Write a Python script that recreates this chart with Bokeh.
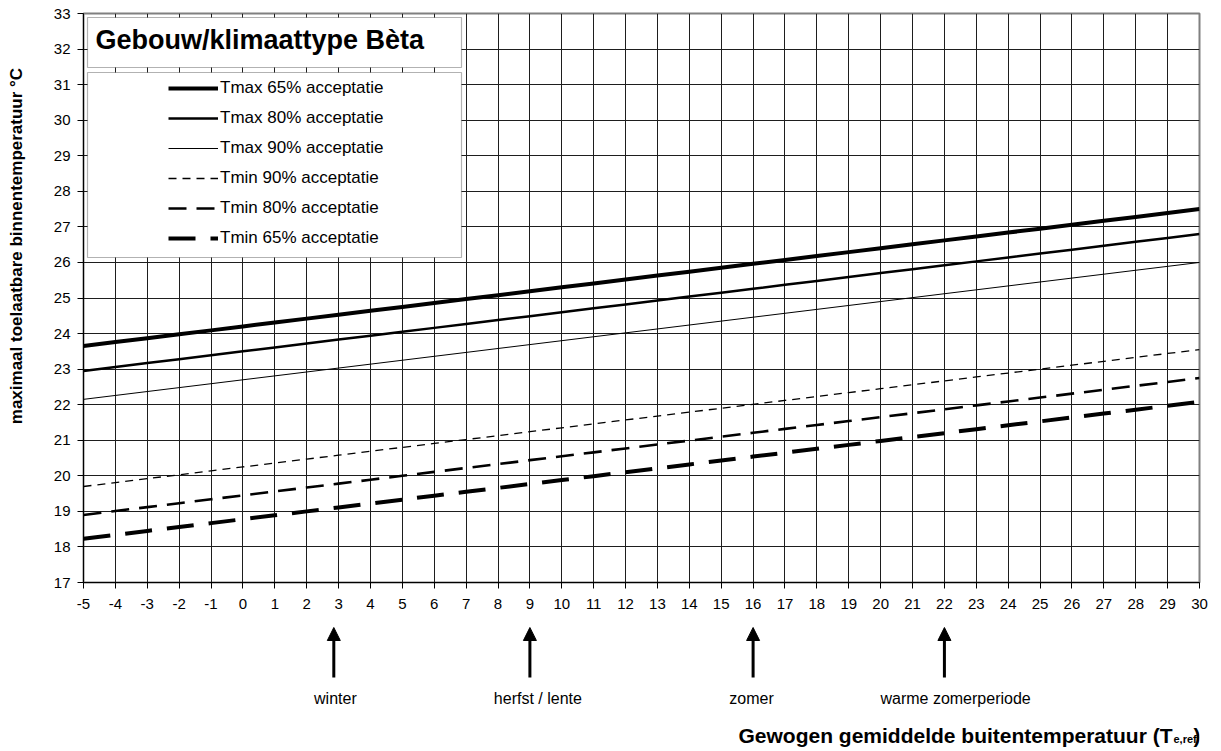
from bokeh.plotting import figure
from bokeh.models import (Range1d, FixedTicker, Legend, LegendItem, BoxAnnotation,
                          Label, Arrow, NormalHead, ColumnDataSource)
from bokeh.layouts import column
from bokeh.embed import file_html
from bokeh.resources import INLINE

# ---------------- data ----------------
te = list(range(-5, 31))
tmax65 = [23.65, 23.76, 23.87, 23.98, 24.09, 24.2, 24.31, 24.42, 24.53, 24.64, 24.75, 24.86,
          24.97, 25.08, 25.19, 25.3, 25.41, 25.52, 25.63, 25.74, 25.85, 25.96, 26.07, 26.18,
          26.29, 26.4, 26.51, 26.62, 26.73, 26.84, 26.95, 27.06, 27.17, 27.28, 27.39, 27.5]
tmax80 = [22.95, 23.06, 23.17, 23.28, 23.39, 23.5, 23.61, 23.72, 23.83, 23.94, 24.05, 24.16,
          24.27, 24.38, 24.49, 24.6, 24.71, 24.82, 24.93, 25.04, 25.15, 25.26, 25.37, 25.48,
          25.59, 25.7, 25.81, 25.92, 26.03, 26.14, 26.25, 26.36, 26.47, 26.58, 26.69, 26.8]
tmax90 = [22.15, 22.26, 22.37, 22.48, 22.59, 22.7, 22.81, 22.92, 23.03, 23.14, 23.25, 23.36,
          23.47, 23.58, 23.69, 23.8, 23.91, 24.02, 24.13, 24.24, 24.35, 24.46, 24.57, 24.68,
          24.79, 24.9, 25.01, 25.12, 25.23, 25.34, 25.45, 25.56, 25.67, 25.78, 25.89, 26.0]
tmin90 = [19.7, 19.81, 19.92, 20.03, 20.14, 20.25, 20.36, 20.47, 20.58, 20.69, 20.8, 20.91,
          21.02, 21.13, 21.24, 21.35, 21.46, 21.57, 21.68, 21.79, 21.9, 22.01, 22.12, 22.23,
          22.34, 22.45, 22.56, 22.67, 22.78, 22.89, 23.0, 23.11, 23.22, 23.33, 23.44, 23.55]
tmin80 = [18.9, 19.01, 19.12, 19.23, 19.34, 19.45, 19.56, 19.67, 19.78, 19.89, 20.0, 20.11,
          20.22, 20.33, 20.44, 20.55, 20.66, 20.77, 20.88, 20.99, 21.1, 21.21, 21.32, 21.43,
          21.54, 21.65, 21.76, 21.87, 21.98, 22.09, 22.2, 22.31, 22.42, 22.53, 22.64, 22.75]
tmin65 = [18.23, 18.34, 18.45, 18.56, 18.67, 18.78, 18.89, 19.0, 19.11, 19.22, 19.33, 19.44,
          19.55, 19.66, 19.77, 19.88, 19.99, 20.1, 20.21, 20.32, 20.43, 20.54, 20.65, 20.76,
          20.87, 20.98, 21.09, 21.2, 21.31, 21.42, 21.53, 21.64, 21.75, 21.86, 21.97, 22.08]

series_names = ["Tmax 65% acceptatie", "Tmax 80% acceptatie", "Tmax 90% acceptatie",
                "Tmin 90% acceptatie", "Tmin 80% acceptatie", "Tmin 65% acceptatie"]
x_ticks = list(range(-5, 31))
y_ticks = list(range(17, 34))

season_labels = ["winter", "herfst / lente", "zomer", "warme zomerperiode"]
season_arrow_x = [2.85, 9, 16, 22]
season_label_x = [2.9, 9.25, 15.95, 22.35]

chart_title = "Gebouw/klimaattype Bèta"
y_title = "maximaal toelaatbare binnentemperatuur °C"
x_title_main = "Gewogen gemiddelde buitentemperatuur (T"
x_title_sub = "e,ref"
x_title_end = ")"

# ---------------- styling ----------------
FONT = "Liberation Sans"
W = 1221
LEFT, RIGHT, TOP = 83, 22, 13
MAIN_H = 625
BOTTOM = MAIN_H - 582

styles = [
    dict(line_width=4.0, line_dash="solid"),
    dict(line_width=2.5, line_dash="solid"),
    dict(line_width=1.0, line_dash="solid"),
    dict(line_width=1.3, line_dash="8 6"),
    dict(line_width=2.6, line_dash="18 10"),
    dict(line_width=4.0, line_dash="27 15"),
]

p = figure(width=W, height=MAIN_H, x_range=Range1d(-5, 30), y_range=Range1d(17, 33),
           output_backend="svg", toolbar_location=None,
           min_border_left=LEFT, min_border_right=RIGHT, min_border_top=TOP,
           min_border_bottom=BOTTOM)
p.background_fill_color = "white"
p.border_fill_color = "white"
p.outline_line_color = "#808080"
p.outline_line_width = 2

for ax in (p.xaxis[0], p.yaxis[0]):
    ax.major_label_text_font = FONT
    ax.major_label_text_font_size = "15px"
    ax.major_label_text_color = "black"
    ax.axis_line_color = "black"
    ax.major_tick_line_color = "black"
    ax.major_tick_out = 6
    ax.major_tick_in = 0
    ax.minor_tick_line_color = None
p.xaxis.ticker = FixedTicker(ticks=x_ticks)
p.yaxis.ticker = FixedTicker(ticks=y_ticks)
p.xaxis.major_label_overrides = {t: str(t) for t in x_ticks}
p.xaxis.major_label_standoff = 10
p.yaxis.major_label_standoff = 7

# y axis title (padded at its start so that its centre sits where the original has it)
p.yaxis.axis_label = "\u00a0" * 22 + y_title
p.yaxis.axis_label_text_font = FONT
p.yaxis.axis_label_text_font_size = "17px"
p.yaxis.axis_label_text_font_style = "bold"
p.yaxis.axis_label_text_color = "black"
p.yaxis.axis_label_standoff = 25

p.xgrid.ticker = FixedTicker(ticks=x_ticks)
p.ygrid.ticker = FixedTicker(ticks=y_ticks)
for g in (p.xgrid[0], p.ygrid[0]):
    g.grid_line_color = "#1e1e1e"
    g.grid_line_width = 1

all_series = [tmax65, tmax80, tmax90, tmin90, tmin80, tmin65]
renderers = []
for ys, st in zip(all_series, styles):
    r = p.line(te, ys, line_color="black", line_width=st["line_width"],
               line_dash=st["line_dash"], line_cap="butt", line_join="miter")
    renderers.append(r)

# boxes for title and legend (screen pixel positions converted to data)
kx = (W - LEFT - RIGHT) / 35.0
ky = (582 - TOP) / 16.0


def dx(px):
    return -5 + (px - LEFT) / kx


def dy(py):
    return 33 - (py - TOP) / ky


title_box = BoxAnnotation(left=dx(87), right=dx(461), top=dy(17), bottom=dy(67),
                          fill_color="white", fill_alpha=1, line_color="black",
                          line_width=1.2, level="annotation")
legend_box = BoxAnnotation(left=dx(87), right=dx(461), top=dy(72), bottom=dy(257),
                           fill_color="white", fill_alpha=1, line_color="black",
                           line_width=1.2, level="annotation")
p.add_layout(title_box)
p.add_layout(legend_box)

p.add_layout(Label(x=dx(95), y=dy(39), text=chart_title, text_font=FONT,
                   text_font_size="27px", text_font_style="bold", text_color="black",
                   text_baseline="middle", text_align="left"))

legend = Legend(items=[LegendItem(label=n, renderers=[r]) for n, r in zip(series_names, renderers)],
                location=(85, 332), padding=0, margin=0, spacing=6,
                glyph_width=50, glyph_height=24, label_height=24, label_standoff=2,
                label_text_font=FONT, label_text_font_size="17px",
                label_text_color="black", border_line_alpha=0,
                background_fill_alpha=0)
p.add_layout(legend)

# ---------------- bottom panel (arrows and captions) ----------------
H2 = 751 - MAIN_H
p2 = figure(width=W, height=H2, x_range=p.x_range, y_range=Range1d(H2, 0),
            output_backend="svg", toolbar_location=None, min_border=0,
            min_border_left=LEFT, min_border_right=RIGHT,
            x_axis_type=None, y_axis_type=None)
p2.outline_line_color = None
p2.xgrid.visible = False
p2.ygrid.visible = False
p2.background_fill_color = "white"
p2.border_fill_color = "white"

arrow_src = ColumnDataSource(dict(x=season_arrow_x, y0=[52] * len(season_arrow_x),
                                  y1=[2] * len(season_arrow_x)))
p2.add_layout(Arrow(end=NormalHead(size=13, fill_color="black", line_color="black"),
                    x_start="x", y_start="y0", x_end="x", y_end="y1",
                    source=arrow_src, line_width=3, line_color="black"))

p2.text(x=season_label_x, y=[73] * len(season_labels), text=season_labels,
        text_font={"value": FONT}, text_font_size="16px", text_color="black",
        text_align="center", text_baseline="middle")

p2.text(x=[dx(1172)], y=[110], text=[x_title_main], text_font={"value": FONT},
        text_font_size="21px", text_font_style="bold", text_color="black",
        text_align="right", text_baseline="middle")
p2.text(x=[dx(1173)], y=[113], text=[x_title_sub], text_font={"value": FONT},
        text_font_size="11px", text_font_style="bold", text_color="black",
        text_align="left", text_baseline="middle")
p2.text(x=[dx(1193)], y=[110], text=[x_title_end], text_font={"value": FONT},
        text_font_size="21px", text_font_style="bold", text_color="black",
        text_align="left", text_baseline="middle")

layout = column(p, p2, spacing=0)
open("out.html", "w").write(file_html(layout, INLINE))
